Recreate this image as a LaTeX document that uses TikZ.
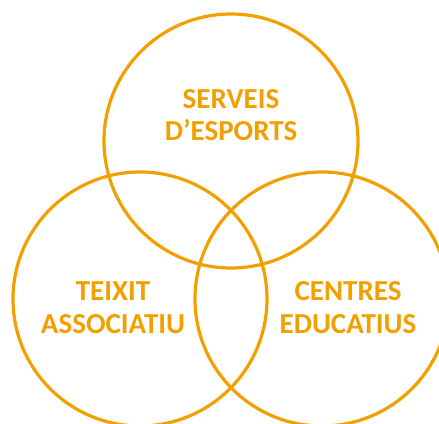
\documentclass[tikz,border=0pt]{standalone}
\usepackage{fontspec}
\setmainfont{Carlito}
\definecolor{venn}{RGB}{242,160,0}
\begin{document}
\begin{tikzpicture}[x=1pt,y=-1pt,
  ring/.style={draw=venn,line width=3.2pt},
  lbl/.style={text=venn,font=\fontsize{29}{33}\selectfont\bfseries,anchor=base,inner sep=0pt}]
\useasboundingbox (0,0) rectangle (439,423);
\begin{scope}
\clip (0,0) rectangle (439,423);
\draw[ring] (231,141) circle[radius=127];
\draw[ring] (140,299) circle[radius=127];
\draw[ring] (322,299) circle[radius=127];
\end{scope}
\node[lbl] (s1) at (231,108) {SERVEIS};
\node[lbl] (s2) at (231,140) {D’ESPORTS};
\node[lbl] (t1) at (113,300) {TEIXIT};
\node[lbl] (t2) at (113,333) {ASSOCIATIU};
\node[lbl] (c1) at (348,300) {CENTRES};
\node[lbl] (c2) at (348,333) {EDUCATIUS};
\end{tikzpicture}
\end{document}
